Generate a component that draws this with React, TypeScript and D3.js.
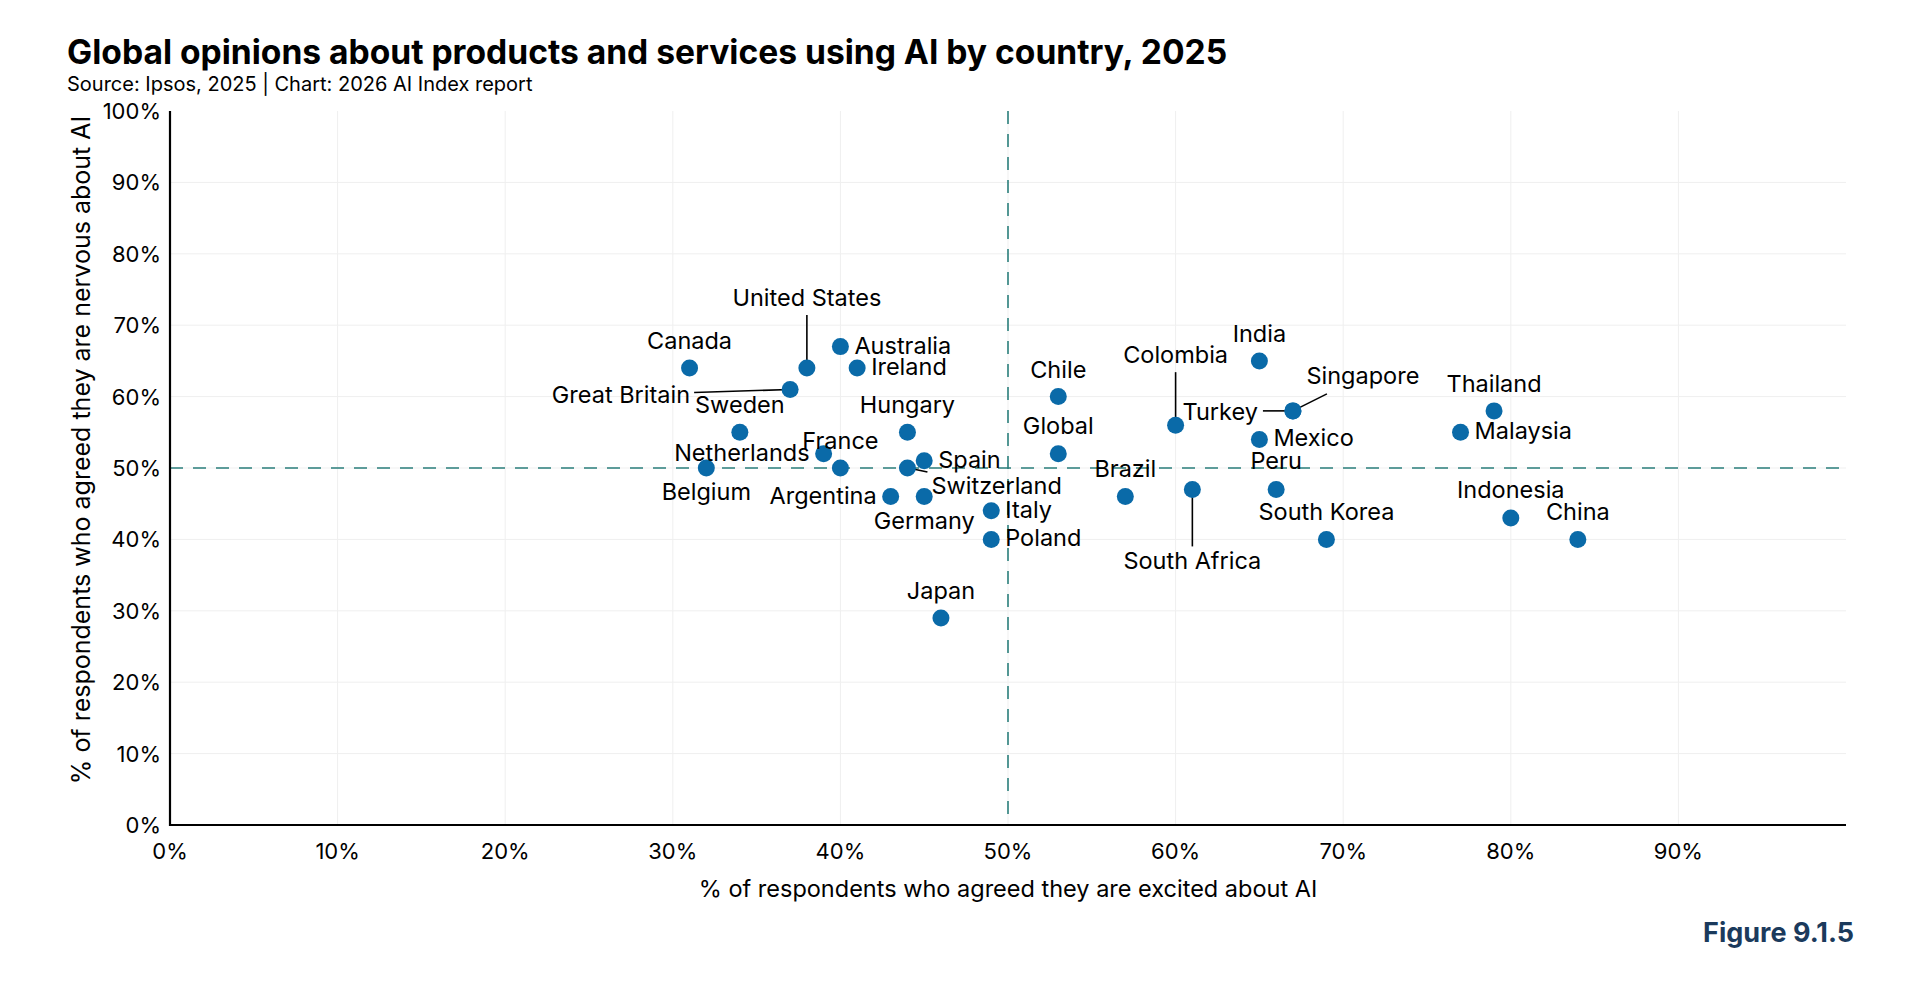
import * as d3 from 'd3'

// excited (x) / nervous (y), in %
const countries = [
  'Canada', 'United States', 'Great Britain', 'Australia', 'Ireland', 'Sweden', 'Hungary',
  'Netherlands', 'France', 'Belgium', 'Argentina', 'Spain', 'Switzerland', 'Germany', 'Italy',
  'Poland', 'Japan', 'Global', 'Chile', 'Colombia', 'India', 'Singapore', 'Turkey', 'Mexico',
  'Peru', 'Brazil', 'South Africa', 'South Korea', 'Thailand', 'Malaysia', 'Indonesia', 'China',
]
const excited = [31, 38, 37, 40, 41, 34, 44, 39, 40, 32, 43, 45, 44, 45, 49, 49, 46, 53, 53, 60, 65, 67, 67, 65, 66, 57, 61, 69, 79, 77, 80, 84]
const nervous = [64, 64, 61, 67, 64, 55, 55, 52, 50, 50, 46, 51, 50, 46, 44, 40, 29, 52, 60, 56, 65, 58, 58, 54, 47, 46, 47, 40, 58, 55, 43, 40]

const xTicks = [0, 10, 20, 30, 40, 50, 60, 70, 80, 90]
const yTicks = [0, 10, 20, 30, 40, 50, 60, 70, 80, 90, 100]

// label placement: offset from the dot, anchor, optional leader line [x1,y1,x2,y2]
type Lab = { dx: number; dy: number; a: 'start' | 'middle' | 'end'; line?: number[] }
const above: Lab = { dx: 0, dy: -19, a: 'middle' }
const right: Lab = { dx: 14, dy: 7, a: 'start' }
const left: Lab = { dx: -14, dy: 7, a: 'end' }
const below: Lab = { dx: 0, dy: 32, a: 'middle' }
const labelPlace: Record<string, Lab> = {
  Canada: above,
  'United States': { dx: 0, dy: -62, a: 'middle', line: [0, -53, 0, 0] },
  'Great Britain': { dx: -100, dy: 14, a: 'end', line: [-96, 3, 0, 0] },
  Australia: right,
  Ireland: right,
  Sweden: above,
  Hungary: above,
  Netherlands: left,
  France: above,
  Belgium: below,
  Argentina: left,
  Spain: right,
  Switzerland: { dx: 24, dy: 26, a: 'start', line: [1, 0, 20, 4] },
  Germany: below,
  Italy: right,
  Poland: right,
  Japan: above,
  Global: { dx: 0, dy: -20, a: 'middle' },
  Chile: above,
  Colombia: { dx: 0, dy: -62, a: 'middle', line: [0, -53, 0, 0] },
  India: above,
  Singapore: { dx: 70, dy: -27, a: 'middle', line: [34, -17, 0, 0] },
  Turkey: { dx: -35, dy: 9, a: 'end', line: [-30, 0, 0, 0] },
  Mexico: right,
  Peru: { dx: 0, dy: -20, a: 'middle' },
  Brazil: { dx: 0, dy: -20, a: 'middle' },
  'South Africa': { dx: 0, dy: 80, a: 'middle', line: [0, 0, 0, 57] },
  'South Korea': above,
  Thailand: above,
  Malaysia: right,
  Indonesia: { dx: 0, dy: -20, a: 'middle' },
  China: above,
}

const W = 1914
const H = 984
const left0 = 170
const right0 = 1846
const top0 = 111
const bottom0 = 825

const FONT = 'Inter, "Noto Sans", sans-serif'
const DOT = '#0a6aa8'
const TEAL = '#2b7f7c'

export default function App() {
  const x = d3.scaleLinear().domain([0, 100]).range([left0, right0])
  const y = d3.scaleLinear().domain([0, 100]).range([bottom0, top0])

  return (
    <div style={{ position: 'absolute', left: 0, top: 0 }}>
      <svg width={W} height={H} viewBox={`0 0 ${W} ${H}`} style={{ display: 'block', background: '#fff' }} fontFamily={FONT}>
        <text x={67} y={64} fontSize={33.6} fontWeight={700} fill="#000">
          Global opinions about products and services using AI by country, 2025
        </text>
        <text x={67} y={91} fontSize={20} fill="#000">
          Source: Ipsos, 2025 | Chart: 2026 AI Index report
        </text>

        {/* grid */}
        {xTicks.filter((t) => t > 0).map((t) => (
          <line key={'gx' + t} x1={x(t)} x2={x(t)} y1={y(100)} y2={y(0)} stroke="#efefef" strokeWidth={1} />
        ))}
        {yTicks.filter((t) => t > 0 && t < 100).map((t) => (
          <line key={'gy' + t} x1={x(0)} x2={x(100)} y1={y(t)} y2={y(t)} stroke="#efefef" strokeWidth={1} />
        ))}

        {/* 50% reference lines */}
        <line x1={x(50)} x2={x(50)} y1={y(100)} y2={y(0)} stroke={TEAL} strokeWidth={1.6} strokeDasharray="13 10" />
        <line x1={x(0)} x2={x(100)} y1={y(50)} y2={y(50)} stroke={TEAL} strokeWidth={1.6} strokeDasharray="13 10" />

        {/* axes */}
        <line x1={x(0)} x2={x(0)} y1={y(100)} y2={y(0) + 1} stroke="#000" strokeWidth={2.2} />
        <line x1={x(0) - 1} x2={x(100)} y1={y(0)} y2={y(0)} stroke="#000" strokeWidth={2.2} />

        {yTicks.map((t) => (
          <text key={'ty' + t} x={x(0) - 9} y={y(t) + 8} fontSize={22} textAnchor="end" fill="#000">
            {d3.format('d')(t)}%
          </text>
        ))}
        {xTicks.map((t) => (
          <text key={'tx' + t} x={x(t)} y={y(0) + 34} fontSize={22} textAnchor="middle" fill="#000">
            {d3.format('d')(t)}%
          </text>
        ))}

        <text x={x(50)} y={y(0) + 72} fontSize={23.5} textAnchor="middle" fill="#000">
          % of respondents who agreed they are excited about AI
        </text>
        <text transform={`translate(90,450) rotate(-90)`} fontSize={25} textAnchor="middle" fill="#000">
          % of respondents who agreed they are nervous about AI
        </text>

        {/* leader lines */}
        {countries.map((c, i) => {
          const p = labelPlace[c]
          if (!p.line) return null
          const cx = x(excited[i])
          const cy = y(nervous[i])
          return (
            <line key={'l' + c} x1={cx + p.line[0]} y1={cy + p.line[1]} x2={cx + p.line[2]} y2={cy + p.line[3]} stroke="#000" strokeWidth={1.6} />
          )
        })}

        {/* dots */}
        {countries.map((c, i) => (
          <circle key={'d' + c} cx={x(excited[i])} cy={y(nervous[i])} r={8.5} fill={DOT} />
        ))}

        {/* labels */}
        {countries.map((c, i) => {
          const p = labelPlace[c]
          return (
            <text key={'t' + c} x={x(excited[i]) + p.dx} y={y(nervous[i]) + p.dy} fontSize={23.5} textAnchor={p.a} fill="#000">
              {c}
            </text>
          )
        })}

        <text x={1854} y={942} fontSize={27} fontWeight={700} textAnchor="end" fill="#1b3a5c">
          Figure 9.1.5
        </text>
      </svg>
    </div>
  )
}
